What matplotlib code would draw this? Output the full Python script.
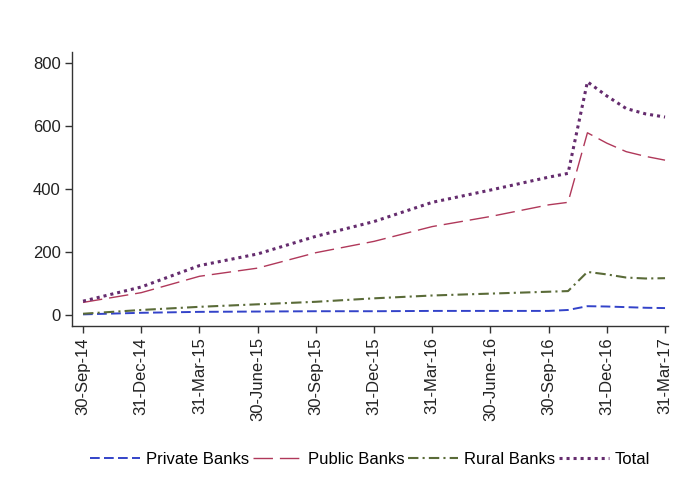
import matplotlib.pyplot as plt

plt.rcParams['font.family'] = ['Liberation Sans', 'DejaVu Sans']

# months counted from Sep 2014; quarterly until Sep 2016, monthly afterwards
months = [0, 3, 6, 9, 12, 15, 18, 21, 24, 25, 26, 27, 28, 29, 30]
private = [1, 6, 9, 10, 11, 11, 12, 12, 12, 15, 27, 26, 24, 22, 21]
public = [39, 70, 122, 148, 197, 233, 280, 312, 349, 357, 578, 545, 518, 503, 491]
rural = [3, 15, 25, 33, 41, 52, 61, 67, 73, 75, 136, 128, 118, 115, 116]
total = [43, 88, 156, 193, 249, 296, 357, 396, 437, 449, 740, 695, 655, 638, 628]

tick_pos = [0, 3, 6, 9, 12, 15, 18, 21, 24, 27, 30]
tick_labels = ['30-Sep-14', '31-Dec-14', '31-Mar-15', '30-June-15', '30-Sep-15',
               '31-Dec-15', '31-Mar-16', '30-June-16', '30-Sep-16', '31-Dec-16',
               '31-Mar-17']

fig = plt.figure(figsize=(6.74, 4.96), dpi=100)
ax = fig.add_axes([0.1068, 0.3427, 0.8842, 0.5533])

ax.plot(months, private, color='#3343c9', lw=1.4, ls=(0, (5, 2.2)), label='Private Banks')
ax.plot(months, public, color='#b0385a', lw=1.0, ls=(0, (14, 5)), label='Public Banks')
ax.plot(months, rural, color='#5a6b38', lw=1.5, ls=(0, (5, 2, 1, 2)), label='Rural Banks')
ax.plot(months, total, color='#652c6e', lw=2.2, ls=(0, (1, 1.3)), label='Total')

ax.set_xlim(-0.57, 30.15)
ax.set_ylim(-36, 836)
ax.set_yticks([0, 200, 400, 600, 800])
ax.set_xticks(tick_pos)
ax.set_xticklabels(tick_labels, rotation=90)

for side in ['top', 'right']:
    ax.spines[side].set_visible(False)
for side in ['left', 'bottom']:
    ax.spines[side].set_color('#333333')
    ax.spines[side].set_linewidth(1.0)
ax.tick_params(axis='both', length=5, width=1.0, color='#333333',
               labelsize=12, labelcolor='#222222', pad=3)

fig.legend(loc='center', bbox_to_anchor=(0.549, 0.073), ncol=4, frameon=False,
           fontsize=12, handlelength=3.0, handletextpad=0.35, columnspacing=0.2)

fig.savefig('out.png', dpi=100)
